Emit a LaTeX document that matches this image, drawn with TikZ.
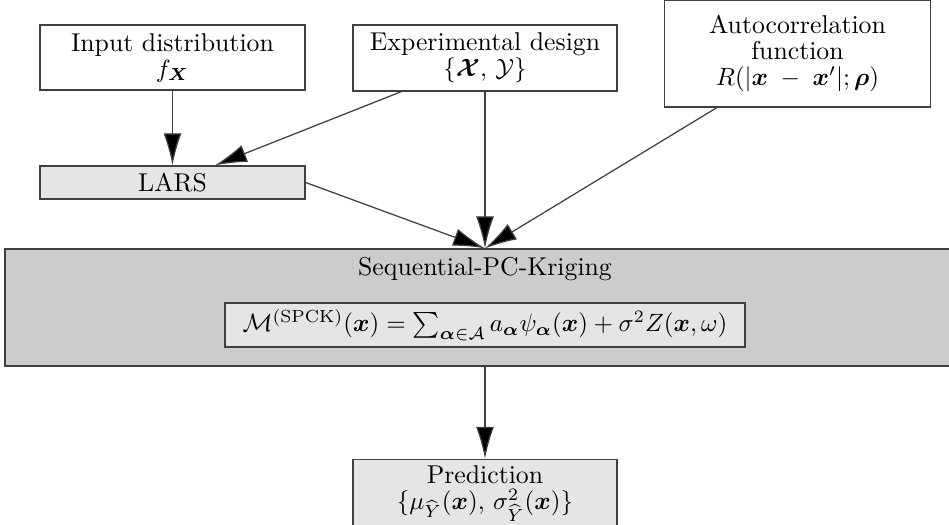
\documentclass[tikz,border=0pt]{standalone}
\usepackage{amsmath,amssymb}
\usetikzlibrary{arrows.meta}
\tikzset{
  block/.style={draw=black!75, line width=0.5pt, align=center, inner sep=1pt},
  flow/.style={draw=black!75, line width=0.5pt, -{Latex[length=12.8pt,width=7.2pt,fill=black]}},
}
\begin{document}
\begin{tikzpicture}[x=0.4pt,y=-0.4pt, font=\fontsize{10.3}{12.4}\selectfont]
    \useasboundingbox (0,0) rectangle (949,525);

    % inputs
    \node[block, minimum width=106pt, minimum height=26pt] (input) at (172.5,57.5)
        {Input distribution\\[-2pt] $f_{\boldsymbol{X}}$};
    \node[block, minimum width=105.6pt, minimum height=26.4pt] (design) at (485,58)
        {Experimental design\\[-2pt] $\{\boldsymbol{\mathcal{X}},\,\mathcal{Y}\}$};
    \node[block, minimum width=106.4pt, minimum height=42.8pt] (autocorr) at (797.5,53.5)
        {Autocorrelation\\[-2pt] function\\[-2pt] $R(|\boldsymbol{x}\;-\;\boldsymbol{x}'|;\boldsymbol{\rho})$};

    % LARS
    \node[block, fill=black!10, minimum width=106pt, minimum height=13.2pt] (lars) at (172.5,182.5) {LARS};

    % metamodel
    \node[block, fill=black!20, minimum width=384pt, minimum height=46.8pt] (spck) at (485,307.5) {};
    \node[anchor=north, inner sep=0pt] (spcktitle) at ([yshift=-3.4pt]spck.north) {Sequential-PC-Kriging};
    \node[block, fill=black!10, minimum width=208pt, minimum height=17.6pt] (formula) at (485,325)
        {$\mathcal{M}^{(\mathrm{SPCK})}(\boldsymbol{x}) = \sum_{\boldsymbol{\alpha}\in\mathcal{A}} a_{\boldsymbol{\alpha}}\psi_{\boldsymbol{\alpha}}(\boldsymbol{x}) + \sigma^2 Z(\boldsymbol{x},\omega)$};

    % output
    \node[block, fill=black!10, minimum width=105.6pt, minimum height=27.2pt] (predict) at (485,493.5)
        {Prediction\\[-2pt] $\{\mu_{\widehat{Y}}(\boldsymbol{x}),\,\sigma^2_{\widehat{Y}}(\boldsymbol{x})\}$};

    % arrows
    \draw[flow] (input) -- (lars);
    \draw[flow] ([xshift=19.6pt]design.south west) -- ([xshift=17pt]lars.north);
    \draw[flow] (lars.east) -- (spck.north);
    \draw[flow] (design) -- (spck.north);
    \draw[flow] ([xshift=21.2pt]autocorr.south west) -- (spck.north);
    \draw[flow] (spck) -- (predict);
\end{tikzpicture}
\end{document}
